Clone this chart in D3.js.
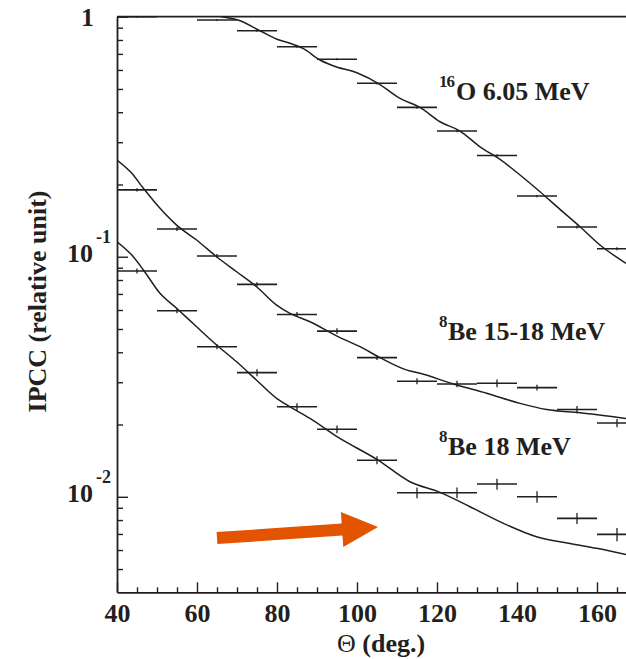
<!DOCTYPE html>
<html>
<head>
<meta charset="utf-8">
<script src="https://cdn.jsdelivr.net/npm/d3@7/dist/d3.min.js"></script>
<style>
  html, body { margin: 0; padding: 0; background: #ffffff; }
  svg { display: block; }
  text { font-family: "Liberation Serif", "Times New Roman", serif; fill: #231f20; }
</style>
</head>
<body>
<svg id="chart" width="626" height="659"></svg>
<script>
// ---- Measured angular correlations (bin centres in degrees, bins are 10 deg wide) ----
const binHalfWidth = 5;

const o16Theta = [45, 65, 75, 85, 95, 105, 115, 125, 135, 145, 155, 165];
const o16Value = [1.0, 0.969, 0.874, 0.750, 0.665, 0.528, 0.419, 0.334, 0.264, 0.179, 0.133, 0.108];
const o16Error = [0.010, 0.010, 0.009, 0.008, 0.007, 0.006, 0.005, 0.004, 0.003, 0.002, 0.002, 0.0015];

const beTheta = [45, 55, 65, 75, 85, 95, 105, 115, 125, 135, 145, 155, 165];
const be1518Value = [0.190, 0.1304, 0.1007, 0.0767, 0.0575, 0.0490, 0.0380, 0.0303, 0.0295, 0.0297, 0.0285, 0.0231, 0.0203];
const be1518Error = [0.0031, 0.0025, 0.0019, 0.0015, 0.0013, 0.0013, 0.0009, 0.0009, 0.0009, 0.0011, 0.0008, 0.0008, 0.0008];
const be18Value = [0.0872, 0.0596, 0.0422, 0.0329, 0.0237, 0.0191, 0.0142, 0.0104, 0.0104, 0.0113, 0.0100, 0.00813, 0.00697];
const be18Error = [0.0021, 0.0014, 0.0010, 0.0011, 0.00085, 0.0007, 0.00054, 0.00053, 0.00053, 0.0006, 0.00055, 0.00043, 0.00045];

// ---- Simulated IPCC curves ----
const o16CurveTheta = [40, 55, 62, 66.25, 70.25, 75.75, 80, 83.25, 86.5, 90.75, 94, 100.25, 105.25, 110.75, 115.75, 120.75, 125.75, 130.75, 135.75, 140.75, 145.75, 150.75, 155.75, 160.75, 167.25];
const o16CurveValue = [1.30, 1.15, 1.05, 1.0, 0.969, 0.874, 0.805, 0.775, 0.738, 0.660, 0.625, 0.581, 0.528, 0.457, 0.419, 0.365, 0.334, 0.287, 0.2545, 0.219, 0.1866, 0.1575, 0.1334, 0.1119, 0.0939];

const be1518CurveTheta = [40, 43.7, 46.6, 50.75, 54.9, 59.9, 64.9, 69.9, 74.9, 79.9, 83.25, 88.25, 95, 100.75, 105.75, 112.5, 115.75, 124.1, 132.4, 140.75, 147.4, 155.75, 167.25];
const be1518CurveValue = [0.2529, 0.2226, 0.1928, 0.1591, 0.1355, 0.1174, 0.1000, 0.0866, 0.0750, 0.0629, 0.0581, 0.0536, 0.0467, 0.0422, 0.0380, 0.0337, 0.0327, 0.0295, 0.0270, 0.0245, 0.0231, 0.0224, 0.0212];

const be18CurveTheta = [40, 43.7, 46.6, 50.75, 54.9, 59.9, 64.9, 69.9, 74.9, 79.9, 83.25, 88.25, 95, 105.25, 113.25, 120.75, 128.25, 136.6, 144.9, 153.25, 159.9, 167.25];
const be18CurveValue = [0.1155, 0.1016, 0.0881, 0.0704, 0.0610, 0.0511, 0.0429, 0.0365, 0.0306, 0.0257, 0.0237, 0.0212, 0.0178, 0.01422, 0.01155, 0.01043, 0.00909, 0.00775, 0.00681, 0.00639, 0.00610, 0.00575];

// ---- Axis ticks and labels ----
const xMajorTicks = [40, 60, 80, 100, 120, 140, 160];
const xMinorTicks = d3.range(45, 170, 5).filter(t => t % 20 !== 0);
const yMajorTicks = [0.01, 0.1, 1];
const yTickBase = ["10", "10", "1"];
const yTickExp = ["-2", "-1", ""];
const yMinorTicks = [0.005, 0.006, 0.007, 0.008, 0.009,
                     0.02, 0.03, 0.04, 0.05, 0.06, 0.07, 0.08, 0.09,
                     0.2, 0.3, 0.4, 0.5, 0.6, 0.7, 0.8, 0.9];

const xTitle = "(deg.)";
const yTitle = "IPCC (relative unit)";

// Curve labels: isotope mass number, text, anchor (theta, value at baseline)
const labelMass = ["16", "8", "8"];
const labelText = ["O 6.05 MeV", "Be 15-18 MeV", "Be 18 MeV"];
const labelTheta = [120.5, 120.5, 120.5];
const labelValue = [0.4497, 0.04497, 0.01492];

// Arrow annotation (tail and tip, in data coordinates)
const arrowTail = [65, 0.00673];
const arrowTip = [105.25, 0.00748];

// ---- Layout ----
const ink = "#231f20";
const plotLeft = 117, plotRight = 626, plotTop = 16.7, plotBottom = 592.3;

const svg = d3.select("#chart");
const x = d3.scaleLinear().domain([40, 167.25]).range([plotLeft, plotRight]);
const y = d3.scaleLog().domain([0.004, 1]).range([plotBottom, plotTop]);

svg.append("defs").append("clipPath").attr("id", "plotArea")
  .append("rect").attr("x", plotLeft).attr("y", plotTop)
  .attr("width", plotRight - plotLeft).attr("height", plotBottom - plotTop);

// Axes
const xAxisG = svg.append("g").attr("transform", `translate(0,${plotBottom})`)
  .call(d3.axisBottom(x).tickValues(xMajorTicks).tickSize(-10).tickSizeOuter(0));
const xMinorG = svg.append("g").attr("transform", `translate(0,${plotBottom})`)
  .call(d3.axisBottom(x).tickValues(xMinorTicks).tickSize(-5).tickFormat(""));
xMinorG.select(".domain").remove();

const yAxisG = svg.append("g").attr("transform", `translate(${plotLeft},0)`)
  .call(d3.axisLeft(y).tickValues(yMajorTicks).tickSize(-11).tickSizeOuter(0).tickFormat(""));
const yMinorG = svg.append("g").attr("transform", `translate(${plotLeft},0)`)
  .call(d3.axisLeft(y).tickValues(yMinorTicks).tickSize(-6).tickFormat(""));
yMinorG.select(".domain").remove();

[xAxisG, xMinorG, yAxisG, yMinorG].forEach(g => {
  g.selectAll("line").attr("stroke", ink).attr("stroke-width", 1.4);
  g.selectAll(".domain").attr("stroke", ink).attr("stroke-width", 1.8);
});

xAxisG.selectAll("text")
  .attr("dy", null).attr("y", 30)
  .style("font-family", '"Liberation Serif", serif')
  .style("font-size", "26px").style("font-weight", "bold")
  .attr("fill", ink);

// Top frame line
svg.append("line").attr("x1", plotLeft).attr("x2", plotRight).attr("y1", plotTop).attr("y2", plotTop)
  .attr("stroke", ink).attr("stroke-width", 1.8);

// Y tick labels (powers of ten)
yMajorTicks.forEach((v, i) => {
  const ty = y(v);
  if (yTickExp[i] === "") {
    svg.append("text").attr("x", 94).attr("y", ty + 9.5)
      .attr("text-anchor", "end").attr("font-size", 26).attr("font-weight", "bold")
      .text(yTickBase[i]);
  } else {
    svg.append("text").attr("x", 67).attr("y", ty + 5)
      .attr("font-size", 26).attr("font-weight", "bold").text(yTickBase[i]);
    svg.append("text").attr("x", 96).attr("y", ty - 13.5)
      .attr("font-size", 18).attr("font-weight", "bold").text(yTickExp[i]);
  }
});

// Axis titles
const xt = svg.append("text").attr("x", 337).attr("y", 652).attr("font-size", 26);
xt.append("tspan").attr("font-weight", "normal").text("\u0398");
xt.append("tspan").attr("font-weight", "bold").text(" " + xTitle);

svg.append("text")
  .attr("transform", "translate(46,301.5) rotate(-90)")
  .attr("text-anchor", "middle").attr("font-size", 26).attr("font-weight", "bold")
  .text(yTitle);

// Plot content
const plot = svg.append("g").attr("clip-path", "url(#plotArea)");

const line = d3.line().x(d => x(d[0])).y(d => y(d[1])).curve(d3.curveMonotoneX);
const curves = [
  [o16CurveTheta, o16CurveValue],
  [be1518CurveTheta, be1518CurveValue],
  [be18CurveTheta, be18CurveValue]
];
curves.forEach(([th, val]) => {
  plot.append("path").datum(th.map((t, i) => [t, val[i]]))
    .attr("d", line).attr("fill", "none").attr("stroke", ink).attr("stroke-width", 1.5);
});

const seriesPoints = [
  [o16Theta, o16Value, o16Error],
  [beTheta, be1518Value, be1518Error],
  [beTheta, be18Value, be18Error]
];
seriesPoints.forEach(([th, val, err]) => {
  const pts = th.map((t, i) => ({ t, v: val[i], e: err[i] }));
  const g = plot.append("g");
  g.selectAll("line.h").data(pts).join("line").attr("class", "h")
    .attr("x1", d => x(d.t - binHalfWidth)).attr("x2", d => x(d.t + binHalfWidth))
    .attr("y1", d => y(d.v)).attr("y2", d => y(d.v))
    .attr("stroke", ink).attr("stroke-width", 1.6);
  g.selectAll("line.v").data(pts).join("line").attr("class", "v")
    .attr("x1", d => x(d.t)).attr("x2", d => x(d.t))
    .attr("y1", d => y(d.v + d.e)).attr("y2", d => y(d.v - d.e))
    .attr("stroke", ink).attr("stroke-width", 1.3);
});

// Curve labels
labelText.forEach((txt, i) => {
  const lx = x(labelTheta[i]), ly = y(labelValue[i]);
  svg.append("text").attr("x", lx).attr("y", ly - 13)
    .attr("font-size", 17).attr("font-weight", "bold").attr("letter-spacing", -1)
    .text(labelMass[i]);
  const off = labelMass[i].length === 2 ? 17 : 9;
  svg.append("text").attr("x", lx + off).attr("y", ly)
    .attr("font-size", 26).attr("font-weight", "bold").text(txt);
});

// Arrow annotation
const ax0 = x(arrowTail[0]), ay0 = y(arrowTail[1]);
const ax1 = x(arrowTip[0]), ay1 = y(arrowTip[1]);
const len = Math.hypot(ax1 - ax0, ay1 - ay0);
const ang = Math.atan2(ay1 - ay0, ax1 - ax0) * 180 / Math.PI;
const headLen = 36, headHalf = 17.5, shaftHalf = 6;
const arrowPts = [
  [0, -shaftHalf], [len - headLen, -shaftHalf], [len - headLen, -headHalf],
  [len, 0], [len - headLen, headHalf], [len - headLen, shaftHalf], [0, shaftHalf]
];
svg.append("polygon")
  .attr("points", arrowPts.map(p => p.join(",")).join(" "))
  .attr("transform", `translate(${ax0},${ay0}) rotate(${ang})`)
  .attr("fill", "#e25400");
</script>
</body>
</html>
